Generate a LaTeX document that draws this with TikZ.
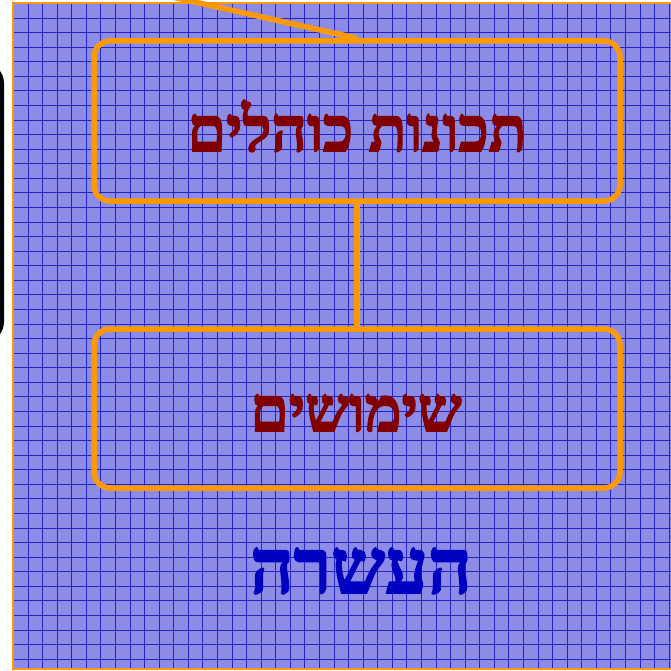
\documentclass[tikz,border=0pt]{standalone}
\usepackage{fontspec}
\TeXXeTstate=1
\newfontfamily\hebfont[Script=Hebrew,FakeBold=2.6]{Liberation Serif}
\definecolor{bgfill}{RGB}{140,140,230}
\definecolor{gridblue}{RGB}{35,35,200}
\definecolor{boxorange}{RGB}{255,153,0}
\definecolor{darkred}{RGB}{128,0,0}
\definecolor{titleblue}{RGB}{0,0,192}
\tikzset{
  x=1pt,y=-1pt,
  topicbox/.style={draw=boxorange,line width=5.5pt,rounded corners=16pt},
  topictext/.style={text=darkred,font=\hebfont\bfseries\fontsize{62}{70}\selectfont},
  titletext/.style={text=titleblue,font=\hebfont\bfseries\fontsize{76}{84}\selectfont},
  link/.style={draw=boxorange,line width=5.5pt},
  gridline/.style={draw=gridblue,line width=1.3pt}
}
\begin{document}
\begin{tikzpicture}
\useasboundingbox (0,0) rectangle (671,671);
% black shape at the left
\fill[black,rounded corners=20pt] (-100,63) rectangle (4,342);
% background panel
\fill[bgfill] (13,3) rectangle (720,669);
\begin{scope}
\clip (13,3) rectangle (720,669);
\foreach \i in {1,...,46} {
  \pgfmathsetmacro{\gx}{round(13+14.57*\i)+0.5}
  \draw[gridline] (\gx,3) -- (\gx,669);
}
\foreach \j in {1,...,45} {
  \pgfmathsetmacro{\gy}{round(3+14.57*\j)+0.5}
  \draw[gridline] (13,\gy) -- (720,\gy);
}
\end{scope}
\draw[boxorange,line width=2pt] (720,3) -- (13,3) -- (13,669) -- (720,669);
% boxes
\node[topicbox,minimum width=526pt,minimum height=160pt,inner sep=0pt] (props) at (357,121) {};
\node[topicbox,minimum width=526pt,minimum height=159pt,inner sep=0pt] (uses) at (357,408.5) {};
\node[topictext] (propstext) at (357,126) {\beginR תכונות כוהלים\endR};
\node[topictext] (usestext) at (356,413) {\beginR שימושים\endR};
\node[titletext] (title) at (361,571) {\beginR העשרה\endR};
% connectors
\coordinate (offtop) at (150,-8);
\draw[link] (props.south) -- (uses.north);
\draw[link] (offtop) -- (props.north);
\end{tikzpicture}
\end{document}
